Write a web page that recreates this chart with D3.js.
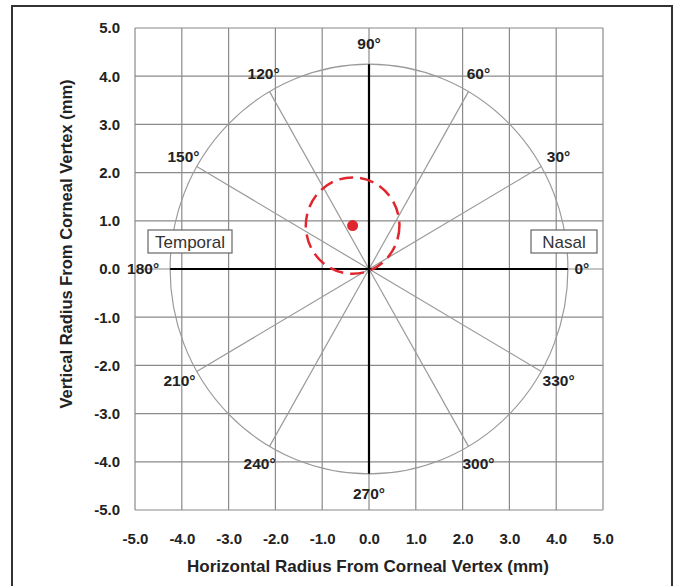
<!DOCTYPE html>
<html>
<head>
<meta charset="utf-8">
<script src="https://cdn.jsdelivr.net/npm/d3@7"></script>
<style>
  body { margin: 0; background: #fff; }
  svg text { font-family: "Liberation Sans", Arial, sans-serif; }
</style>
</head>
<body>
<div id="chart"></div>
<script>
// axis ticks (mm)
const xTicks = [-5, -4, -3, -2, -1, 0, 1, 2, 3, 4, 5];
const yTicks = [-5, -4, -3, -2, -1, 0, 1, 2, 3, 4, 5];
// meridian angles (deg) and the reference circle radius (mm)
const angles = [0, 30, 60, 90, 120, 150, 180, 210, 240, 270, 300, 330];
const ringRadius = 4.25;
// measured decentration: centre (mm) and dashed zone radius (mm)
const centreX = [-0.35];
const centreY = [0.9];
const zoneRadius = [1.0];
const sideLabels = ["Temporal", "Nasal"];

const W = 677, H = 586;
const svg = d3.select("#chart").append("svg").attr("width", W).attr("height", H);

// outer frame
svg.append("rect").attr("x", 12).attr("y", 6).attr("width", 660).attr("height", 600)
  .attr("fill", "none").attr("stroke", "#333").attr("stroke-width", 2);

const x = d3.scaleLinear().domain([-5, 5]).range([135, 603]);
const y = d3.scaleLinear().domain([-5, 5]).range([510, 28]);

// grid
const grid = svg.append("g").attr("stroke", "#8a8a8a").attr("stroke-width", 1.2);
grid.selectAll("line.v").data(xTicks).enter().append("line").attr("class", "v")
  .attr("x1", d => x(d)).attr("x2", d => x(d)).attr("y1", y(5)).attr("y2", y(-5));
grid.selectAll("line.h").data(yTicks).enter().append("line").attr("class", "h")
  .attr("y1", d => y(d)).attr("y2", d => y(d)).attr("x1", x(-5)).attr("x2", x(5));

// axes (labels only)
const fmt = d => d.toFixed(1);
const xAxis = svg.append("g").attr("transform", `translate(0,${y(-5)})`)
  .call(d3.axisBottom(x).tickValues(xTicks).tickFormat(fmt).tickSize(0).tickPadding(23));
const yAxis = svg.append("g").attr("transform", `translate(${x(-5)},0)`)
  .call(d3.axisLeft(y).tickValues(yTicks).tickFormat(fmt).tickSize(0).tickPadding(15));
[xAxis, yAxis].forEach(a => {
  a.select(".domain").remove();
  a.selectAll("text").attr("font-size", 15).attr("font-weight", "bold").attr("fill", "#222")
    .style("font-family", "'Liberation Sans', Arial, sans-serif");
});

const rad = a => a * Math.PI / 180;
const px = (r, a) => x(r * Math.cos(rad(a)));
const py = (r, a) => y(r * Math.sin(rad(a)));

// reference ring (ellipse because axes are not square)
svg.append("ellipse").attr("cx", x(0)).attr("cy", y(0))
  .attr("rx", x(ringRadius) - x(0)).attr("ry", y(0) - y(ringRadius))
  .attr("fill", "none").attr("stroke", "#9a9a9a").attr("stroke-width", 1.2);

// meridians
svg.append("g").selectAll("line").data(angles.filter(a => a % 90 !== 0)).enter().append("line")
  .attr("x1", x(0)).attr("y1", y(0))
  .attr("x2", a => px(ringRadius, a)).attr("y2", a => py(ringRadius, a))
  .attr("stroke", "#9a9a9a").attr("stroke-width", 1.2);

// principal meridians
svg.append("line").attr("x1", px(ringRadius, 180)).attr("x2", px(ringRadius, 0))
  .attr("y1", y(0)).attr("y2", y(0)).attr("stroke", "#000").attr("stroke-width", 2.2);
svg.append("line").attr("x1", x(0)).attr("x2", x(0))
  .attr("y1", py(ringRadius, 90)).attr("y2", py(ringRadius, 270)).attr("stroke", "#000").attr("stroke-width", 2.2);

// angle labels
svg.append("g").selectAll("text").data(angles).enter().append("text")
  .attr("x", a => px(ringRadius, a) + Math.cos(rad(a)) * (a === 180 ? 27 : a === 0 ? 14 : 20) + (a === 150 || a === 120 ? 4 : 0))
  .attr("y", a => py(ringRadius, a) - Math.sin(rad(a)) * 20 + 5)
  .attr("text-anchor", "middle").attr("font-size", 15.5).attr("font-weight", "bold").attr("fill", "#222")
  .text(a => a + "°");

// dashed decentration zone and centre point
svg.append("ellipse").attr("cx", x(centreX[0])).attr("cy", y(centreY[0]))
  .attr("rx", x(zoneRadius[0]) - x(0)).attr("ry", y(0) - y(zoneRadius[0]))
  .attr("fill", "none").attr("stroke", "#e0262e").attr("stroke-width", 2.5)
  .attr("stroke-dasharray", "14,7");
svg.append("circle").attr("cx", x(centreX[0])).attr("cy", y(centreY[0])).attr("r", 5.5)
  .attr("fill", "#e0262e");

// Temporal / Nasal boxes
const boxes = [{t: sideLabels[0], x0: 148, w: 84}, {t: sideLabels[1], x0: 531, w: 66}];
const bg = svg.append("g").selectAll("g").data(boxes).enter().append("g");
bg.append("rect").attr("x", d => d.x0).attr("y", 230).attr("width", d => d.w).attr("height", 23)
  .attr("fill", "#fff").attr("stroke", "#666").attr("stroke-width", 1.2);
bg.append("text").attr("x", d => d.x0 + d.w / 2).attr("y", 248).attr("text-anchor", "middle")
  .attr("font-size", 17).attr("fill", "#333").text(d => d.t);

// axis titles
svg.append("text").attr("x", 368).attr("y", 572).attr("text-anchor", "middle")
  .attr("font-size", 17).attr("font-weight", "bold").attr("fill", "#222")
  .text("Horizontal Radius From Corneal Vertex (mm)");
svg.append("text").attr("transform", "translate(72,244) rotate(-90)").attr("text-anchor", "middle")
  .attr("font-size", 16.5).attr("font-weight", "bold").attr("fill", "#222")
  .text("Vertical Radius From Corneal Vertex (mm)");
</script>
</body>
</html>
